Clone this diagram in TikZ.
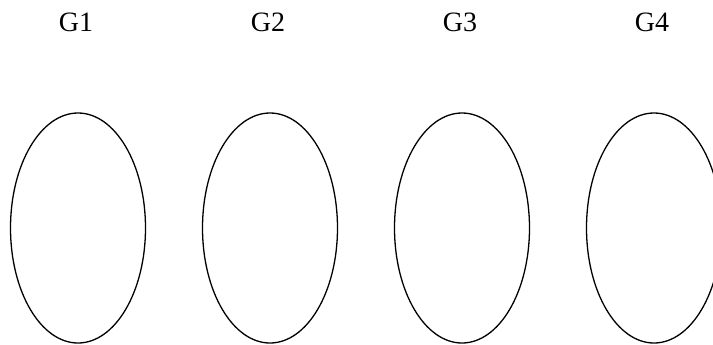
\documentclass[tikz,border=0pt]{standalone}
\usepackage{fontspec}
\setmainfont{Liberation Serif}
\usetikzlibrary{shapes.geometric}
\tikzset{
  every picture/.style={line width=0.65pt},
  group/.style={draw=black, ellipse, minimum width=67.5pt, minimum height=115pt, inner sep=0pt},
  grouplabel/.style={font=\fontsize{14}{16}\selectfont, inner sep=0pt},
}

\begin{document}
\begin{tikzpicture}[x=0.5pt, y=-0.5pt]
  \useasboundingbox (0,0) rectangle (713,344);
  \clip (0,0) rectangle (713,344);
  % one ellipse per group, label above
  \foreach \g in {1,2,3,4} {
    \node[group] (g\g) at (78+192*\g-192,228) {};
    \node[grouplabel] (l\g) at (76+192*\g-192,22) {G\g};
  }
\end{tikzpicture}
\end{document}
